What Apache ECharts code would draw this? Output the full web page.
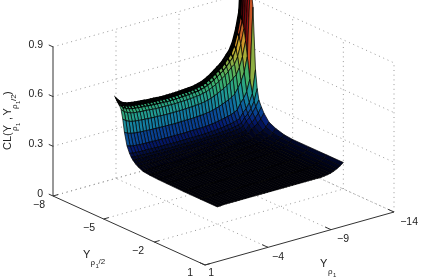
<!DOCTYPE html>
<html>
<head>
<meta charset="utf-8">
<style>html,body{margin:0;padding:0;background:#fff}#chart{width:422px;height:280px}</style>
<script src="https://cdn.jsdelivr.net/npm/echarts@6/dist/echarts.min.js"></script>
</head>
<body>
<div id="chart"></div>
<script>
// Tick values of the three axes
const y1Ticks = [1, -4, -9, -14];
const y2Ticks = [-8, -5, -2, 1];
const zTicks = [0, 0.3, 0.6, 0.9];

// Mesh coordinates of the surface
const y1Mesh = [-4,-4.25,-4.5,-4.75,-5,-5.25,-5.5,-5.75,-6,-6.25,-6.5,-6.75,-7,-7.25,-7.5,-7.75,-8,-8.25,-8.5,-8.75,-9,-9.25,-9.5,-9.75,-10,-10.25,-10.5,-10.75,-11,-11.25,-11.5,-11.75,-12,-12.25,-12.5,-12.75,-13,-13.25,-13.5,-13.75,-14];
const y2Mesh = [-2,-3,-4,-5,-5.5,-6,-6.4,-6.7,-6.85,-7,-7.1,-7.2,-7.35,-7.5,-7.6,-7.7,-7.8,-7.9,-7.93,-7.97,-8];

// CL values: one line per y1Mesh entry, one column per y2Mesh entry
const clValues = [
[.105,.105,.105,.107,.108,.111,.116,.130,.141,.156,.169,.188,.226,.301,.376,.429,.452,.467,.474,.480,.485],
[.106,.106,.106,.107,.109,.111,.117,.129,.140,.154,.166,.184,.219,.290,.361,.410,.432,.446,.452,.458,.462],
[.108,.108,.108,.109,.111,.113,.118,.130,.140,.154,.166,.183,.216,.284,.352,.400,.420,.433,.438,.443,.447],
[.108,.108,.108,.109,.111,.113,.118,.130,.140,.153,.164,.181,.214,.280,.346,.393,.413,.426,.430,.435,.439],
[.108,.108,.108,.109,.111,.113,.118,.129,.139,.152,.163,.180,.212,.278,.343,.388,.408,.421,.425,.430,.434],
[.108,.108,.108,.109,.111,.113,.118,.129,.139,.152,.163,.179,.211,.276,.341,.386,.405,.418,.422,.427,.431],
[.108,.108,.108,.109,.110,.113,.118,.129,.138,.151,.162,.179,.211,.275,.339,.384,.403,.416,.420,.425,.429],
[.108,.108,.108,.109,.110,.113,.118,.129,.138,.151,.162,.178,.210,.274,.338,.382,.401,.414,.418,.423,.427],
[.108,.108,.108,.109,.110,.113,.118,.129,.138,.151,.162,.178,.209,.273,.336,.381,.400,.412,.416,.421,.425],
[.108,.108,.108,.109,.110,.113,.117,.128,.138,.151,.161,.177,.209,.272,.335,.379,.398,.410,.414,.419,.423],
[.108,.108,.108,.109,.110,.113,.117,.128,.137,.150,.161,.177,.208,.271,.333,.377,.396,.408,.412,.417,.421],
[.108,.108,.108,.109,.110,.113,.117,.128,.137,.150,.161,.177,.208,.270,.333,.376,.395,.408,.411,.416,.420],
[.108,.108,.108,.109,.110,.113,.117,.128,.137,.150,.160,.176,.208,.270,.332,.375,.394,.407,.410,.415,.419],
[.108,.108,.108,.109,.110,.113,.117,.128,.137,.150,.160,.176,.207,.269,.331,.375,.393,.406,.409,.414,.418],
[.108,.108,.108,.109,.110,.113,.117,.128,.137,.150,.160,.176,.207,.269,.330,.374,.392,.405,.408,.413,.417],
[.108,.108,.108,.109,.110,.113,.117,.128,.137,.150,.160,.176,.207,.268,.330,.373,.391,.404,.407,.412,.416],
[.108,.108,.108,.109,.110,.113,.117,.128,.137,.150,.160,.176,.207,.268,.330,.373,.391,.404,.407,.412,.416],
[.108,.108,.108,.109,.110,.113,.117,.128,.137,.150,.160,.176,.207,.268,.330,.373,.391,.404,.407,.412,.416],
[.108,.108,.108,.109,.110,.113,.117,.128,.137,.150,.160,.176,.207,.269,.330,.374,.392,.405,.408,.413,.417],
[.108,.108,.108,.109,.110,.113,.117,.128,.137,.150,.160,.176,.207,.269,.331,.375,.393,.406,.409,.414,.418],
[.108,.108,.108,.109,.110,.113,.117,.128,.137,.150,.160,.176,.208,.270,.332,.375,.394,.407,.410,.415,.419],
[.108,.108,.108,.109,.110,.113,.117,.128,.137,.150,.161,.177,.208,.270,.333,.376,.395,.408,.411,.416,.420],
[.108,.108,.108,.109,.110,.113,.117,.128,.137,.150,.161,.177,.208,.271,.333,.377,.396,.408,.412,.417,.421],
[.108,.108,.108,.109,.110,.113,.117,.128,.138,.151,.161,.177,.209,.272,.335,.379,.398,.410,.414,.419,.423],
[.108,.108,.108,.109,.110,.113,.118,.129,.138,.151,.162,.178,.209,.273,.336,.381,.400,.412,.416,.421,.425],
[.108,.108,.108,.109,.110,.113,.118,.129,.138,.151,.162,.178,.210,.274,.338,.383,.402,.415,.419,.424,.428],
[.108,.108,.108,.109,.111,.113,.118,.129,.139,.152,.163,.180,.212,.277,.342,.388,.407,.420,.424,.429,.433],
[.108,.108,.108,.109,.111,.113,.118,.130,.140,.153,.164,.181,.214,.280,.346,.392,.412,.425,.429,.434,.438],
[.108,.108,.108,.109,.111,.113,.118,.130,.140,.154,.166,.183,.216,.284,.352,.400,.420,.433,.438,.443,.447],
[.108,.108,.108,.109,.111,.113,.119,.131,.141,.155,.167,.185,.220,.290,.360,.409,.430,.444,.448,.454,.458],
[.108,.108,.108,.109,.111,.113,.119,.132,.143,.157,.169,.188,.224,.296,.369,.419,.441,.456,.460,.466,.470],
[.108,.108,.108,.110,.111,.114,.119,.132,.144,.159,.172,.191,.229,.304,.379,.432,.455,.470,.474,.480,.485],
[.108,.108,.108,.110,.111,.114,.120,.133,.145,.161,.174,.194,.233,.312,.390,.445,.469,.484,.489,.495,.500],
[.108,.108,.108,.110,.111,.114,.120,.134,.147,.163,.177,.198,.238,.320,.401,.458,.482,.499,.504,.510,.515],
[.110,.110,.110,.112,.113,.116,.123,.138,.151,.167,.182,.204,.246,.331,.416,.476,.501,.518,.523,.530,.535],
[.113,.113,.113,.115,.117,.120,.126,.142,.156,.173,.188,.211,.256,.345,.435,.497,.524,.542,.547,.555,.560],
[.117,.117,.118,.120,.123,.129,.142,.165,.181,.200,.216,.240,.290,.375,.450,.510,.545,.565,.572,.579,.585],
[.124,.124,.125,.127,.130,.136,.150,.175,.193,.215,.233,.260,.315,.410,.490,.550,.590,.610,.616,.623,.630],
[.133,.133,.134,.136,.139,.145,.160,.190,.213,.240,.260,.290,.350,.460,.550,.620,.660,.680,.684,.693,.700],
[.145,.145,.146,.148,.151,.158,.175,.210,.238,.270,.298,.340,.420,.550,.640,.710,.750,.780,.782,.791,.800],
[.160,.160,.160,.160,.165,.180,.200,.240,.270,.306,.370,.480,.850,1.00,1.05,1.10,1.14,1.17,1.18,1.19,1.20]
];

// Colour ramp from z = 0 to z = 1 in steps of 0.05
const rampColors = ['#000004','#000004','#000006','#000522','#051a70','#0a4a98','#127aa2','#1f9a98','#30aa78','#44b066','#78b04c','#a8ae38','#ccac2c','#d08a28','#c85824','#b82a1c','#981012','#800a0e','#6c060a','#5a0408','#4c0306'];

// Oblique projection: screen offset per full span of each axis
const floorFront = [205, 265];
const y1Span = [189, -53];
const y2Span = [-152, -69];
const zPerUnit = 165.7;
function project(y1, y2, z) {
  const u = (1 - y1) / 15;
  const v = (1 - y2) / 9;
  return [
    floorFront[0] + u * y1Span[0] + v * y2Span[0],
    floorFront[1] + u * y1Span[1] + v * y2Span[1] - z * zPerUnit
  ];
}

// Box grid, drawn dotted on the floor and the two back walls
const Y1A = y1Ticks[0], Y1B = y1Ticks[3], Y2A = y2Ticks[0], Y2B = y2Ticks[3], ZTOP = zTicks[3];
const gridLines = [];
y1Ticks.slice(1).forEach(t => {
  gridLines.push([t, Y2B, 0, t, Y2A, 0]);
  gridLines.push([t, Y2A, 0, t, Y2A, ZTOP]);
});
y2Ticks.slice(0, 3).forEach(t => {
  gridLines.push([Y1A, t, 0, Y1B, t, 0]);
  gridLines.push([Y1B, t, 0, Y1B, t, ZTOP]);
});
gridLines.push([Y1B, Y2B, 0, Y1B, Y2B, ZTOP]);
zTicks.forEach(t => {
  gridLines.push([Y1A, Y2A, t, Y1B, Y2A, t]);
  gridLines.push([Y1B, Y2A, t, Y1B, Y2B, t]);
});

// Solid axes and their tick marks
const axisLines = [
  [Y1A, Y2A, 0, Y1A, Y2A, ZTOP],
  [Y1A, Y2A, 0, Y1A, Y2B, 0],
  [Y1A, Y2B, 0, Y1B, Y2B, 0]
];
zTicks.forEach(t => axisLines.push([Y1A, Y2A, t, Y1A, Y2A - 0.25, t]));
y2Ticks.forEach(t => axisLines.push([Y1A, t, 0, Y1A - 0.4, t, 0]));
y1Ticks.forEach(t => axisLines.push([t, Y2B, 0, t, Y2B - 0.35, 0]));

// Quads ordered from the far corner to the near one
const quads = [];
for (let i = y1Mesh.length - 2; i >= 0; i--) {
  for (let j = y2Mesh.length - 2; j >= 0; j--) {
    const c = clValues;
    const mean = (c[i][j] + c[i + 1][j] + c[i][j + 1] + c[i + 1][j + 1]) / 4;
    quads.push([i, j, Math.min(mean, 1)]);
  }
}
// The last few tightly packed rows form the dark rim along the far edge
const rimStart = y2Mesh.length - 5;

// Text pieces: [text, x, y, size, rotation, horizontal align]
const F = 'Liberation Sans';
const textItems = [];
zTicks.forEach((t, k) => textItems.push([String(t), 43, [194, 144.5, 94.5, 45][k], 10.5, 0, 'right']));
y2Ticks.forEach((t, k) => textItems.push([String(t).replace('-', '\u2212'), [45, 95, 144, 193][k], [205, 228, 251, 273][k], 10.5, 0, 'right']));
y1Ticks.forEach((t, k) => textItems.push([String(t).replace('-', '\u2212'), [214, 284, 349, 418][k], [273, 257, 239, 222][k], 10.5, 0, 'right']));
textItems.push(['Y', 83, 255, 11, 0, 'left'], ['\u03c1', 90.5, 262.5, 8, 0, 'left'], ['1', 95.5, 266.5, 6, 0, 'left'], ['/2', 98.5, 261.5, 8, 0, 'left']);
textItems.push(['Y', 320, 264, 11, 0, 'left'], ['\u03c1', 328, 272, 8, 0, 'left'], ['1', 333, 275.5, 6, 0, 'left']);
const ROT = Math.PI / 2;
textItems.push(['CL(Y', 8, 150, 11, ROT, 'left'], ['\u03c1', 15, 131, 8, ROT, 'left'], ['1', 18, 126, 6, ROT, 'left'], [',', 8, 120, 11, ROT, 'left'], ['Y', 8, 115.5, 11, ROT, 'left'], ['\u03c1', 15, 109, 8, ROT, 'left'], ['1', 18, 104, 6, ROT, 'left'], ['/2', 14, 101, 8, ROT, 'left'], [')', 8, 95, 11, ROT, 'left']);

function segmentRenderer(list, style) {
  return (params, api) => {
    const d = list[params.dataIndex];
    const a = api.coord(project(d[0], d[1], d[2]));
    const b = api.coord(project(d[3], d[4], d[5]));
    return { type: 'line', shape: { x1: a[0], y1: a[1], x2: b[0], y2: b[1] }, style };
  };
}

const chart = echarts.init(document.getElementById('chart'), null, { renderer: 'canvas' });
chart.setOption({
  animation: false,
  backgroundColor: '#fff',
  grid: { left: 0, right: 0, top: 0, bottom: 0 },
  xAxis: { type: 'value', min: 0, max: 422, show: false },
  yAxis: { type: 'value', min: 0, max: 280, inverse: true, show: false },
  visualMap: { show: false, seriesIndex: 1, dimension: 2, min: 0, max: 1, inRange: { color: rampColors } },
  series: [
    {
      name: 'grid', type: 'custom', silent: true, clip: false, data: gridLines, z: 1,
      renderItem: segmentRenderer(gridLines, { stroke: '#999', lineWidth: 1, lineDash: [1, 3.7], fill: null })
    },
    {
      name: 'surface', type: 'custom', silent: true, clip: false, progressive: 0, data: quads, z: 2,
      encode: { x: 0, y: 1 },
      renderItem(params, api) {
        const i = api.value(0), j = api.value(1);
        const corner = (a, b) => api.coord(project(y1Mesh[a], y2Mesh[b], clValues[a][b]));
        return {
          type: 'polygon',
          shape: { points: [corner(i, j), corner(i + 1, j), corner(i + 1, j + 1), corner(i, j + 1)] },
          style: { fill: api.visual('color'), stroke: '#000', lineWidth: j >= rimStart ? 1.3 : 0.7 }
        };
      }
    },
    {
      name: 'axes', type: 'custom', silent: true, clip: false, data: axisLines, z: 3,
      renderItem: segmentRenderer(axisLines, { stroke: '#333', lineWidth: 1, fill: null })
    },
    {
      name: 'text', type: 'custom', silent: true, clip: false, data: textItems.map((t, k) => [k]), z: 4,
      renderItem(params, api) {
        const t = textItems[params.dataIndex];
        const p = api.coord([t[1], t[2]]);
        return {
          type: 'text', x: p[0], y: p[1], rotation: t[4],
          style: { text: t[0], fontFamily: F, fontSize: t[3], fill: '#222', align: t[5], verticalAlign: 'middle' }
        };
      }
    }
  ]
});
</script>
</body>
</html>
